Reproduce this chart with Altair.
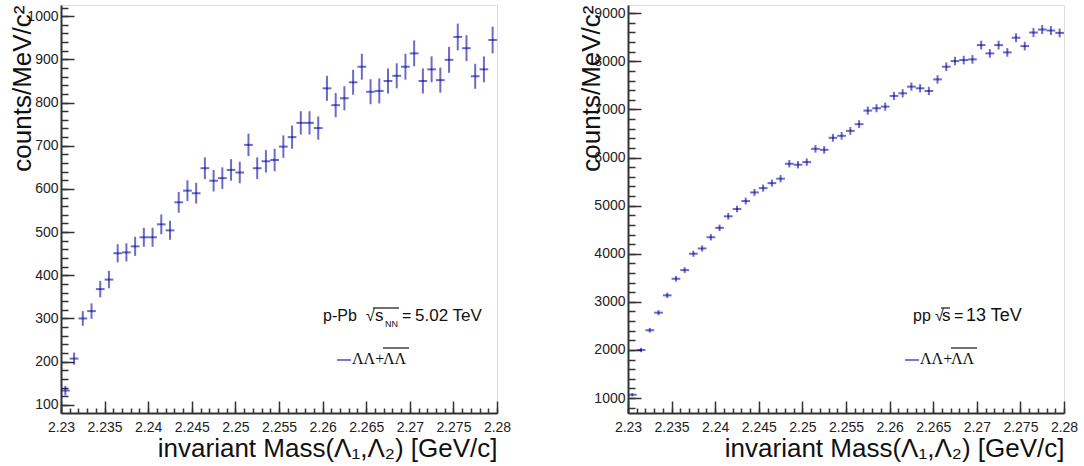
import altair as alt
import pandas as pd

# ---------------- data ----------------
bin_lo = 2.23
bin_w = 0.001
n_bins = 50

left_counts = [133, 207, 300, 317, 368, 390, 451, 453, 467, 488,
               488, 518, 504, 569, 596, 590, 648, 619, 625, 644,
               638, 702, 648, 664, 667, 698, 720, 753, 753, 741,
               833, 794, 810, 847, 883, 825, 827, 850, 862, 883,
               914, 850, 877, 852, 899, 952, 926, 861, 877, 945]
left_err = [11, 14, 17, 18, 19, 20, 21, 21, 22, 22,
            22, 23, 22, 24, 24, 24, 25, 25, 25, 25,
            25, 26, 25, 26, 26, 26, 27, 27, 27, 27,
            29, 28, 28, 29, 30, 29, 29, 29, 29, 30,
            30, 29, 30, 29, 30, 31, 30, 29, 30, 31]

right_counts = [1070, 2000, 2410, 2775, 3135, 3480, 3660, 4000, 4110, 4343,
                4538, 4778, 4930, 5095, 5275, 5364, 5468, 5560, 5870, 5850,
                5905, 6181, 6160, 6410, 6451, 6554, 6693, 6975, 7024, 7058,
                7280, 7335, 7473, 7439, 7383, 7624, 7887, 8005, 8026, 8040,
                8337, 8164, 8337, 8185, 8490, 8316, 8598, 8660, 8639, 8590]
right_err = [33, 45, 49, 53, 56, 59, 60, 63, 64, 66,
             67, 69, 70, 71, 73, 73, 74, 75, 77, 76,
             77, 79, 78, 80, 80, 81, 82, 84, 84, 84,
             85, 86, 86, 86, 86, 87, 89, 89, 90, 90,
             91, 90, 91, 90, 92, 91, 93, 93, 93, 93]

x_tick_labels = [2.23, 2.235, 2.24, 2.245, 2.25, 2.255, 2.26, 2.265, 2.27, 2.275, 2.28]
x_minor_ticks = [round(2.23 + 0.001 * i, 3) for i in range(51)]
left_y_labels = [100, 200, 300, 400, 500, 600, 700, 800, 900, 1000]
left_y_minor = list(range(100, 1021, 20))
right_y_labels = [1000, 2000, 3000, 4000, 5000, 6000, 7000, 8000, 9000]
right_y_minor = list(range(800, 9101, 200))

left_domain = [81, 1026]
right_domain = [690, 9170]

x_title = "invariant Mass(Λ\u2081,Λ\u2082) [GeV/c]"
y_title = "counts/MeV/c\u00b2"

W, H = 436, 408
FONT = "Liberation Sans"
MCOL = "#0000a0"
MOPA = 0.58


def make_df(counts, errs):
    rows = []
    for i, (c, e) in enumerate(zip(counts, errs)):
        lo = round(bin_lo + i * bin_w, 4)
        hi = round(lo + bin_w, 4)
        rows.append(dict(xc=round((lo + hi) / 2, 5), xlo=lo, xhi=hi,
                         y=c, ylo=c - e, yhi=c + e))
    return pd.DataFrame(rows)


def panel(counts, errs, ydom, ylabels, yminor, title_x, energy_parts, legend_x):
    df = make_df(counts, errs)
    xs = alt.Scale(domain=[2.23, 2.28], nice=False, zero=False)
    ys = alt.Scale(domain=ydom, nice=False, zero=False)

    main_x_axis = alt.Axis(values=x_tick_labels, format=".3~f", ticks=False, tickSize=0,
                           grid=False, labelFlush=False, labelOverlap=False,
                           labelPadding=7, labelFontSize=14, labelFont=FONT,
                           labelColor="#222", domainColor="#333", domainWidth=2,
                           title=x_title, titleFont=FONT, titleFontSize=26,
                           titleFontWeight="normal", titleColor="#111",
                           titleX=W, titleY=43, titleAlign="right",
                           titleBaseline="alphabetic", titleAngle=0)
    main_y_axis = alt.Axis(values=ylabels, format="d", ticks=False, tickSize=0,
                           grid=False, labelFlush=False, labelOverlap=False,
                           labelPadding=3, labelFontSize=14, labelFont=FONT,
                           labelColor="#222", labelBaseline="middle",
                           domainColor="#333", domainWidth=2,
                           title=y_title, titleFont=FONT, titleFontSize=26,
                           titleFontWeight="normal", titleColor="#111",
                           titleX=title_x, titleY=0, titleAngle=270,
                           titleAlign="right", titleBaseline="alphabetic")

    hbar = alt.Chart(df).mark_rule(color=MCOL, strokeWidth=2, opacity=MOPA).encode(
        x=alt.X("xlo:Q", scale=xs, axis=main_x_axis),
        x2="xhi:Q",
        y=alt.Y("y:Q", scale=ys, axis=main_y_axis),
    )
    vbar = alt.Chart(df).mark_rule(color=MCOL, strokeWidth=2, opacity=MOPA).encode(
        x=alt.X("xc:Q", scale=xs, axis=None),
        y=alt.Y("ylo:Q", scale=ys, axis=None),
        y2="yhi:Q",
    )

    def tick_axis_y(values, size):
        return alt.Chart(df).mark_point(opacity=0).encode(
            x=alt.X("xc:Q", scale=xs, axis=None),
            y=alt.Y("y:Q", scale=ys, axis=alt.Axis(
                orient="left", values=values, labels=False, domain=False, grid=False,
                ticks=True, tickSize=size, offset=-size, tickColor="#333",
                tickWidth=1.5, title=None)),
        )

    def tick_axis_x(values, size):
        return alt.Chart(df).mark_point(opacity=0).encode(
            y=alt.Y("y:Q", scale=ys, axis=None),
            x=alt.X("xc:Q", scale=xs, axis=alt.Axis(
                orient="bottom", values=values, labels=False, domain=False, grid=False,
                ticks=True, tickSize=size, offset=-size, tickColor="#333",
                tickWidth=1.5, title=None)),
        )

    one = pd.DataFrame({"a": [0]})

    def txt(s, x, y, size=17, font=FONT, align="left"):
        return alt.Chart(one).mark_text(text=s, font=font, fontSize=size, align=align,
                                        baseline="alphabetic", color="#111").encode(
            x=alt.value(x), y=alt.value(y))

    def hline(x1, x2, y, color="#111", w=1.2):
        return alt.Chart(one).mark_rule(color=color, strokeWidth=w).encode(
            x=alt.value(x1), x2=alt.value(x2), y=alt.value(y))

    annos = []
    for part in energy_parts:
        if part[0] == "line":
            annos.append(hline(part[1], part[2], part[3]))
        else:
            annos.append(txt(part[0], part[1], part[2], size=part[3]))

    lx = legend_x
    annos += [
        hline(lx, lx + 14, 355, color="#7a7ad8", w=2),
        txt("ΛΛ+", lx + 15, 359, size=16, font="Liberation Serif"),
        txt("ΛΛ", lx + 46, 359, size=16, font="Liberation Serif"),
        hline(lx + 46, lx + 72, 343, w=1.2),
    ]

    layers = [hbar, vbar,
              tick_axis_y(ylabels, 13), tick_axis_y(yminor, 7),
              tick_axis_x(x_tick_labels, 12), tick_axis_x(x_minor_ticks, 5)] + annos
    return alt.layer(*layers).resolve_axis(x="independent", y="independent").properties(
        width=W, height=H)


left_energy = [
    ("p-Pb", 262, 316, 16),
    ("√", 305, 316, 16),
    ("s", 314, 316, 17),
    ("NN", 324, 322, 9),
    ("line", 312, 338, 303),
    ("=", 341, 316, 16),
    ("5.02 TeV", 354, 316, 17),
]
right_energy = [
    ("pp", 285, 316, 16),
    ("√", 307, 316, 16),
    ("s", 314, 316, 17),
    ("line", 313, 322, 303),
    ("=", 326, 316, 16),
    ("13 TeV", 338, 316, 18),
]

left = panel(left_counts, left_err, left_domain, left_y_labels, left_y_minor, -31,
             left_energy, 276)
right = panel(right_counts, right_err, right_domain, right_y_labels, right_y_minor, -29,
              right_energy, 277)

chart = alt.hconcat(left, right, spacing=131, bounds="flush").properties(
    padding={"left": 8, "top": 4, "right": 0, "bottom": 0},
).configure_view(stroke="#666", strokeWidth=1.5).configure(background="white")

chart.save("out.html", embed_options={"renderer": "svg", "actions": False})
